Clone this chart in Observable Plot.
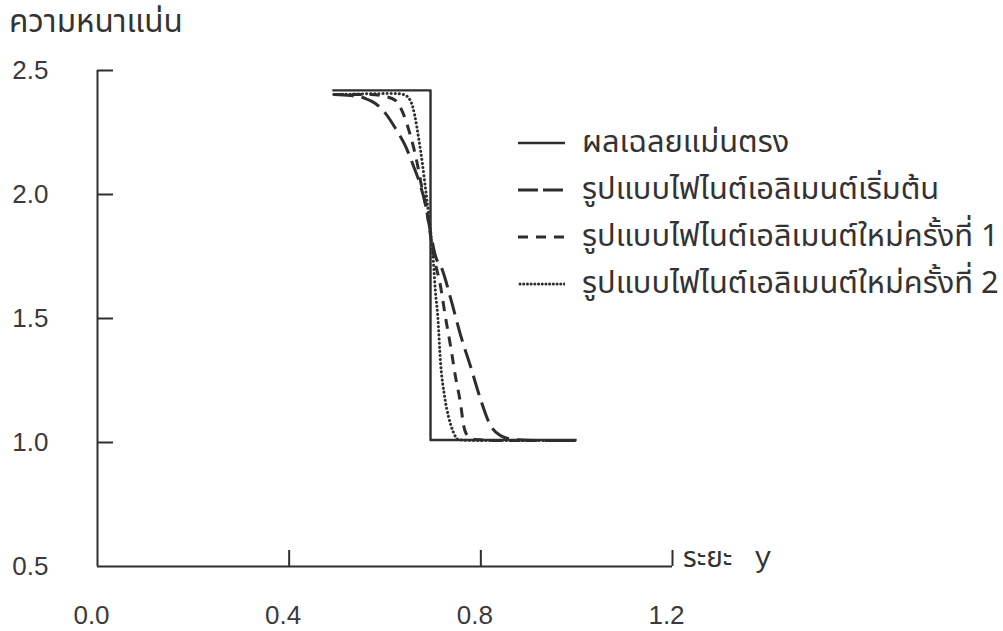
<!DOCTYPE html>
<html>
<head>
<meta charset="utf-8">
<script src="https://cdn.jsdelivr.net/npm/d3@7"></script>
<script src="https://cdn.jsdelivr.net/npm/@observablehq/plot@0.6"></script>
<style>
  html, body { margin: 0; padding: 0; background: #fff; }
  #wrap { position: relative; width: 1003px; height: 631px; overflow: hidden; }
  .thai { font-family: "Noto Sans Thai", "Tahoma", "Loma", "Garuda", "Noto Sans", sans-serif; color: #333; }
  #ytitle { position: absolute; left: 9px; top: 7px; font-size: 31.5px; line-height: 1; }
  #xtitle { position: absolute; left: 683px; top: 545px; font-size: 28px; line-height: 1; white-space: nowrap; }
  #xtitle .y { font-family: "Liberation Mono", "DejaVu Sans Mono", monospace; font-size: 29px; margin-left: 22px; }
  .leg { position: absolute; left: 518px; height: 34px; display: flex; align-items: center; white-space: nowrap; }
  .leg svg { display: block; margin-right: 17px; }
  .leg span { font-size: 30.8px; line-height: 1; }
</style>
</head>
<body>
<div id="wrap"></div>
<script>
// ---- data ----
const xTickLabels = [0.0, 0.4, 0.8, 1.2];
const xTickMarks = [0.4, 0.8, 1.2];
const yTickLabels = [0.5, 1.0, 1.5, 2.0, 2.5];
const yTickMarks = [1.0, 1.5, 2.0, 2.5];

const seriesNames = [
  "ผลเฉลยแม่นตรง",
  "รูปแบบไฟไนต์เอลิเมนต์เริ่มต้น",
  "รูปแบบไฟไนต์เอลิเมนต์ใหม่ครั้งที่ 1",
  "รูปแบบไฟไนต์เอลิเมนต์ใหม่ครั้งที่ 2"
];

// exact solution (step)
const exactX = [0.49, 0.695, 0.695, 1.0];
const exactY = [2.42, 2.42, 1.01, 1.01];

// initial finite element model
const initX = [0.493, 0.528, 0.559, 0.580, 0.601, 0.622, 0.643, 0.659, 0.674, 0.685, 0.695, 0.705, 0.720, 0.737, 0.758, 0.778, 0.799, 0.820, 0.841, 0.872, 0.925, 0.998];
const initY = [2.403, 2.399, 2.387, 2.367, 2.327, 2.266, 2.194, 2.117, 2.036, 1.956, 1.847, 1.754, 1.694, 1.581, 1.431, 1.310, 1.177, 1.069, 1.028, 1.012, 1.008, 1.008];

// new finite element model, iteration 1
const new1X = [0.493, 0.570, 0.601, 0.622, 0.637, 0.653, 0.666, 0.676, 0.687, 0.695, 0.703, 0.716, 0.726, 0.737, 0.747, 0.758, 0.764, 0.774, 0.789, 0.841, 0.998];
const new1Y = [2.403, 2.403, 2.395, 2.379, 2.331, 2.238, 2.137, 2.036, 1.935, 1.835, 1.742, 1.629, 1.508, 1.387, 1.266, 1.153, 1.069, 1.024, 1.012, 1.008, 1.008];

// new finite element model, iteration 2
const new2X = [0.493, 0.622, 0.639, 0.653, 0.662, 0.670, 0.678, 0.685, 0.691, 0.697, 0.701, 0.705, 0.710, 0.716, 0.724, 0.733, 0.743, 0.753, 0.778, 0.998];
const new2Y = [2.403, 2.407, 2.403, 2.379, 2.319, 2.230, 2.125, 2.016, 1.923, 1.815, 1.726, 1.613, 1.512, 1.319, 1.190, 1.101, 1.040, 1.012, 1.008, 1.008];

// ---- styles ----
const ink = "#2e2e2e";
const styles = [
  {dash: null, width: 2.4, legendDash: null, cap: "butt"},
  {dash: "20,8", width: 3, legendDash: "20,5", cap: "butt"},
  {dash: "10,8", width: 3, legendDash: "10,8", cap: "butt"},
  {dash: "0.1,4", width: 3, legendDash: "0.1,3.6", cap: "round"}
];

const toRows = (xs, ys) => xs.map((x, i) => ({x, y: ys[i]}));
const series = [
  toRows(exactX, exactY),
  toRows(initX, initY),
  toRows(new1X, new1Y),
  toRows(new2X, new2Y)
];

const fmt = d3.format(".1f");

const chart = Plot.plot({
  width: 1003,
  height: 631,
  marginLeft: 97,
  marginRight: 331,
  marginTop: 70,
  marginBottom: 65,
  x: {domain: [xTickLabels[0], xTickLabels[xTickLabels.length - 1]]},
  y: {domain: [yTickLabels[0], yTickLabels[yTickLabels.length - 1]]},
  style: {fontFamily: "'Liberation Sans', Arial, sans-serif", fontSize: "26px", color: "#3a3a3a", background: "transparent"},
  marks: [
    Plot.axisY(yTickLabels, {tickSize: 0, tickPadding: 49, tickFormat: fmt, label: null}),
    Plot.axisY(yTickMarks, {tickSize: -16, tickFormat: () => "", label: null, strokeWidth: 2, stroke: ink}),
    Plot.axisX(xTickLabels, {tickSize: 0, tickPadding: 39, tickFormat: fmt, dx: -6, label: null}),
    Plot.axisX(xTickMarks, {tickSize: -16, tickFormat: () => "", label: null, strokeWidth: 2, stroke: ink}),
    Plot.ruleX([xTickLabels[0]], {stroke: ink, strokeWidth: 2}),
    Plot.ruleY([yTickLabels[0]], {stroke: ink, strokeWidth: 2}),
    ...series.map((d, i) => Plot.line(d, {
      x: "x", y: "y",
      stroke: ink,
      strokeWidth: styles[i].width,
      strokeDasharray: styles[i].dash,
      strokeLinecap: styles[i].cap,
      curve: "monotone-x"
    }))
  ]
});

const wrap = document.getElementById("wrap");
wrap.appendChild(chart);

// titles
const yt = document.createElement("div");
yt.id = "ytitle"; yt.className = "thai"; yt.textContent = "ความหนาแน่น";
wrap.appendChild(yt);
const xt = document.createElement("div");
xt.id = "xtitle"; xt.className = "thai";
xt.innerHTML = 'ระยะ<span class="y">y</span>';
wrap.appendChild(xt);

// legend
const rowCenters = [143, 190, 237, 284];
seriesNames.forEach((name, i) => {
  const row = document.createElement("div");
  row.className = "leg thai";
  row.style.top = (rowCenters[i] - 17) + "px";
  const s = d3.create("svg").attr("width", 47).attr("height", 10);
  s.append("line").attr("x1", i === 3 ? 2 : 0).attr("x2", 47).attr("y1", 5).attr("y2", 5)
    .attr("stroke", ink).attr("stroke-width", styles[i].width)
    .attr("stroke-dasharray", styles[i].legendDash)
    .attr("stroke-linecap", styles[i].cap);
  row.appendChild(s.node());
  const t = document.createElement("span");
  t.textContent = name;
  row.appendChild(t);
  wrap.appendChild(row);
});
</script>
</body>
</html>
